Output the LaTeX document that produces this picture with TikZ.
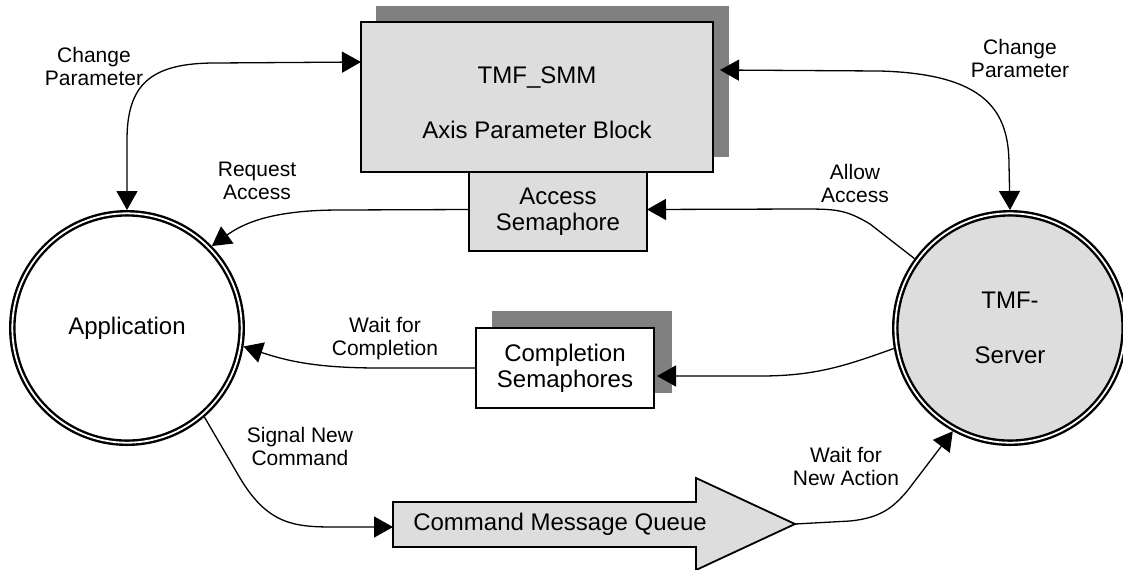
\documentclass[tikz,border=0pt]{standalone}
\usepackage{fontspec}
\setmainfont{Liberation Sans}
\usetikzlibrary{arrows.meta,calc}
\definecolor{fillgray}{HTML}{DDDDDD}
\definecolor{shadowgray}{HTML}{808080}

\begin{document}
\begin{tikzpicture}[x=0.5pt,y=-0.5pt,
  conn/.style={line width=0.65pt, draw=black},
  tip/.style={-{Triangle[length=9.5pt,width=10.5pt]}},
  both/.style={{Triangle[length=9.5pt,width=10.5pt]}-{Triangle[length=9.5pt,width=10.5pt]}},
  boxfont/.style={font=\fontsize{12}{13}\selectfont},
  lbl/.style={font=\fontsize{10.5}{11.5}\selectfont, align=center, inner sep=0pt},
  box/.style={rectangle, draw=black, line width=0.9pt, inner sep=0pt, outer sep=0pt, boxfont, align=center},
  shade/.style={rectangle, fill=shadowgray, draw=none, inner sep=0pt, outer sep=0pt},
  proc/.style={circle, draw=black, double=white, line width=1.2pt, double distance=0.9pt,
    inner sep=0pt, outer sep=1.65pt, minimum size=114.7pt, boxfont, align=center}]

\useasboundingbox (0,0) rectangle (1123,569);

% drop shadows
\node[shade, minimum width=176.5pt, minimum height=75.5pt] (smmshadow) at (552.5,81.5) {};
\node[shade, minimum width=90pt, minimum height=41pt] (compshadow) at (582,352) {};

% data stores
\node[box, fill=fillgray, minimum width=176pt, minimum height=75pt] (smm) at (537,97) {};
\node[boxfont, align=center, inner sep=0pt] (smmtext) at (537,102.5) {TMF\_SMM\\[14.5pt]Axis Parameter Block};
\node[box, fill=fillgray, minimum width=89pt, minimum height=39.5pt] (acc) at (558,211.5) {Access\\Semaphore};
\node[box, fill=white, minimum width=89pt, minimum height=40pt] (comp) at (565,368) {Completion\\Semaphores};

% processes
\node[proc] (app) at (127,328) {Application};
\node[proc, fill=fillgray] (srv) at (1010,328) {TMF-\\[14.5pt]Server};

% message queue
\draw[line width=0.9pt, fill=fillgray] (393,502) -- (696,502) -- (696,478) -- (795,524)
  -- (696,570) -- (696,547) -- (393,547) -- cycle;
\coordinate (qtail) at (393,527);
\coordinate (qtip) at (795,524);
\node[boxfont, inner sep=0pt] (qtext) at (560,524) {Command Message Queue};

% connectors
\coordinate (cpl) at ($(smm.north west)+(0,40)$);
\coordinate (cpr) at ($(smm.north east)+(7,48)$);
\draw[conn,both] (cpl) -- (215,63) .. controls (150,63) and (127,85) .. (127,140) -- (app.north);
\draw[conn,both] (cpr) -- (880,71) .. controls (985,74) and (1009,110) .. (1009,165) -- (srv.north);
\draw[conn,tip] ($(acc.west)+(0,-2)$) -- (340,210) .. controls (275,210) and (245,222) .. (app.44);
\draw[conn,tip] (srv.144) -- (870,224) .. controls (845,209) and (835,209) .. (800,209) -- ($(acc.east)+(0,-2)$);
\draw[conn,tip] (srv.190) .. controls (845,366) and (815,376) .. (760,376) -- ($(comp.east)+(3,8)$);
\draw[conn,tip] (comp.west) -- (380,368) .. controls (320,368) and (290,362) .. (app.-9);
\draw[conn,tip] (app.-49) -- (240,478) .. controls (268,525) and (295,527) .. (335,527) -- (qtail);
\draw[conn,tip] (qtip) -- (850,521) .. controls (880,518) and (893,508) .. (908,490) -- (srv.241);

% connector labels
\node[lbl] (lcpl) at (94,66) {Change\\Parameter};
\node[lbl] (lcpr) at (1020,58) {Change\\Parameter};
\node[lbl] (lreq) at (257,181) {Request\\Access};
\node[lbl] (lallow) at (855,183) {Allow\\Access};
\node[lbl] (lwait) at (385,339) {Wait for\\Completion};
\node[lbl] (lsig) at (300,446) {Signal New\\Command};
\node[lbl] (lnew) at (846,466) {Wait for\\New Action};
\end{tikzpicture}
\end{document}
